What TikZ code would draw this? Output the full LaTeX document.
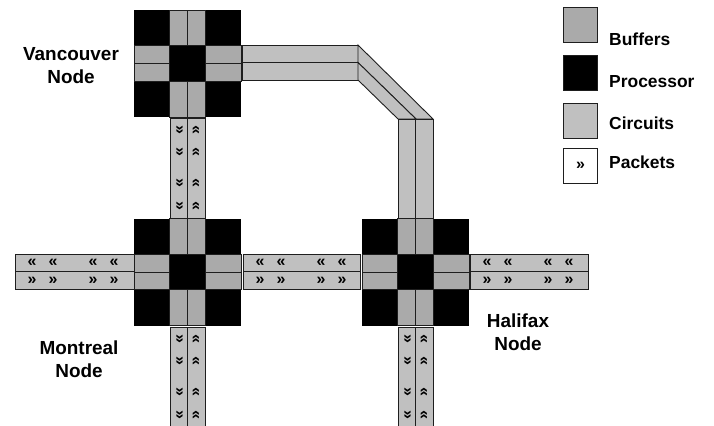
\documentclass[tikz,border=0pt]{standalone}
\usepackage{fontspec}
\setmainfont{Liberation Sans}
\definecolor{buf}{HTML}{AAAAAA}
\definecolor{circ}{HTML}{C0C0C0}
\definecolor{edgec}{HTML}{1E1E1E}
\newcommand\NetNode[3]{%
  \node[fill=black, minimum size=107bp, inner sep=0pt, outer sep=0pt, anchor=north west] (#1) at (#2,#3) {};
  \begin{scope}[shift={(#2,#3)}]
    \draw[bufbox] (35.67,0) rectangle (53.5,35.67);
    \draw[bufbox] (53.5,0) rectangle (71.33,35.67);
    \draw[bufbox] (35.67,71.33) rectangle (53.5,107);
    \draw[bufbox] (53.5,71.33) rectangle (71.33,107);
    \draw[bufbox] (0,35.67) rectangle (35.67,53.5);
    \draw[bufbox] (0,53.5) rectangle (35.67,71.33);
    \draw[bufbox] (71.33,35.67) rectangle (107,53.5);
    \draw[bufbox] (71.33,53.5) rectangle (107,71.33);
  \end{scope}}
% horizontal circuit: x1, x2, ytop
\newcommand\HCirc[3]{%
  \draw[circbox] (#1,#3) rectangle (#2,#3+17.5);
  \draw[circbox] (#1,#3+17.5) rectangle (#2,#3+35);}
% vertical circuit: xleft, y1, y2
\newcommand\VCirc[3]{%
  \draw[circbox] (#1,#2) rectangle (#1+17.5,#3);
  \draw[circbox] (#1+17.5,#2) rectangle (#1+35,#3);}
% horizontal packets: xstart, ytop
\newcommand\HPk[2]{%
  \foreach \d in {17,38,78,99}{
    \node[pk] at (#1+\d,#2+9) {«};
    \node[pk] at (#1+\d,#2+27) {»};}}
% vertical packets: xleft, ystart
\newcommand\VPk[2]{%
  \foreach \d in {12,34,65,88}{
    \node[pk, rotate=-90] at (#1+9,#2+\d) {»};
    \node[pk, rotate=90] at (#1+26.5,#2+\d) {»};}}
\begin{document}
\begin{tikzpicture}[x=1bp, y=-1bp,
  bufbox/.style={fill=buf, draw=edgec, line width=0.9bp},
  circbox/.style={fill=circ, draw=edgec, line width=0.9bp},
  pk/.style={font=\bfseries\fontsize{16}{16}\selectfont, inner sep=0pt},
  lbl/.style={font=\bfseries\fontsize{19}{23}\selectfont, align=center, inner sep=0pt},
  leg/.style={font=\bfseries\fontsize{17.5}{20}\selectfont, anchor=base west, inner sep=0pt},
  legbox/.style={draw=edgec, line width=0.9bp, minimum width=34bp, minimum height=35bp, inner sep=0pt, anchor=north west}]
\useasboundingbox (0,0) rectangle (714,425);

% circuits
\HCirc{242}{358}{45}
\draw[circbox] (358,45) -- (433,119) -- (416,119) -- (358,62.5) -- cycle;
\draw[circbox] (358,62.5) -- (416,119) -- (398,119) -- (358,80) -- cycle;
\VCirc{398}{119}{219}
\VCirc{170}{118}{218}
\VCirc{170}{327}{432}
\VCirc{398}{327}{432}
\HCirc{15}{134}{254}
\HCirc{243}{360}{254}
\HCirc{470}{588}{254}

% nodes
\NetNode{van}{134}{10}
\NetNode{mon}{134}{218.5}
\NetNode{hal}{362}{218.5}

% packets
\VPk{170}{118}
\VPk{170}{327}
\VPk{398}{327}
\HPk{15}{254}
\HPk{243}{254}
\HPk{470}{254}

% labels
\node[lbl] (lvan) at (71,66) {Vancouver\\Node};
\node[lbl] (lmon) at (79,359) {Montreal\\Node};
\node[lbl] (lhal) at (518,332) {Halifax\\Node};

% legend
\node[legbox, fill=buf] (kbuf) at (563,7) {};
\node[legbox, fill=black] (kpro) at (563,55) {};
\node[legbox, fill=circ] (kcir) at (563,103) {};
\node[legbox, fill=white, font=\bfseries\fontsize{16}{16}\selectfont] (kpak) at (563,148) {»};
\node[leg] (tbuf) at (609,45) {Buffers};
\node[leg] (tpro) at (609,87) {Processor};
\node[leg] (tcir) at (609,129) {Circuits};
\node[leg] (tpak) at (609,168) {Packets};
\end{tikzpicture}
\end{document}
